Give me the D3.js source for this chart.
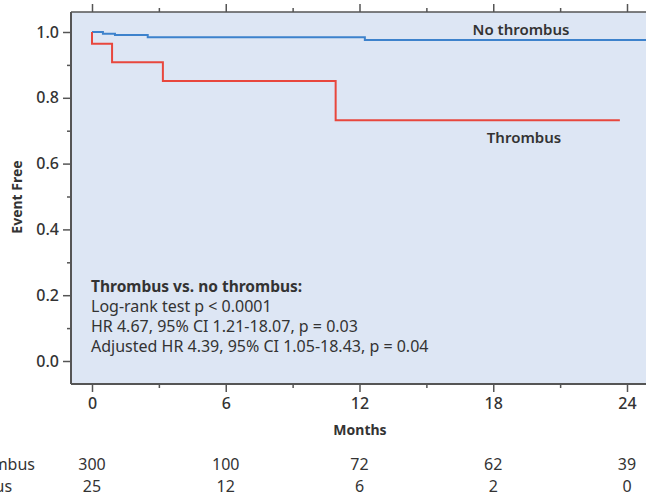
<!DOCTYPE html>
<html>
<head>
<meta charset="utf-8">
<script src="https://cdn.jsdelivr.net/npm/d3@7"></script>
<style>
  body { margin: 0; background: #fff; }
  svg text { font-family: "Noto Sans", "Open Sans", sans-serif; fill: #333; }
</style>
</head>
<body>
<div id="chart"></div>
<script>
// survival curves (months, event-free proportion)
const noThrombusTimes = [0, 0.49, 1.03, 2.5, 12.24, 25];
const noThrombusSurv = [1.0, 0.995, 0.991, 0.984, 0.976, 0.976];
const thrombusTimes = [0, 0, 0.9, 3.18, 10.93, 23.68];
const thrombusSurv = [1.0, 0.964, 0.908, 0.851, 0.732, 0.732];

const monthTicks = [0, 6, 12, 18, 24];
const monthMinor = [3, 9, 15, 21];
const yTicks = [0, 0.2, 0.4, 0.6, 0.8, 1.0];
const yMinor = [0.1, 0.3, 0.5, 0.7, 0.9];

const riskLabels = ['No thrombus', 'Thrombus'];
const riskNoThrombus = [300, 100, 72, 62, 39];
const riskThrombus = [25, 12, 6, 2, 0];

const statsLines = [
  'Thrombus vs. no thrombus:',
  'Log-rank test p < 0.0001',
  'HR 4.67, 95% CI 1.21-18.07, p = 0.03',
  'Adjusted HR 4.39, 95% CI 1.05-18.43, p = 0.04'
];

const width = 646, height = 498;
const plot = { left: 71, right: 660, top: 12, bottom: 384 };

const svg = d3.select('#chart').append('svg')
  .attr('width', width)
  .attr('height', height);

const x = d3.scaleLinear().domain([0, 24]).range([92, 627]);
const y = d3.scaleLinear().domain([0, 1]).range([361, 32]);

// plot background
svg.append('rect')
  .attr('x', plot.left).attr('y', plot.top)
  .attr('width', plot.right - plot.left)
  .attr('height', plot.bottom - plot.top)
  .attr('fill', '#dde6f4');

function styleAxis(g) {
  g.select('.domain').remove();
  g.selectAll('line').attr('stroke', '#555').attr('stroke-width', 1.5);
  g.selectAll('text').attr('fill', '#333');
}

// left axis
svg.append('g')
  .attr('transform', 'translate(' + plot.left + ',0)')
  .call(d3.axisLeft(y).tickValues(yTicks).tickSize(8).tickPadding(4).tickFormat(d3.format('.1f')))
  .call(styleAxis)
  .call(g => g.selectAll('text').style('font-size', '16px').style('font-weight', 500));
svg.append('g')
  .attr('transform', 'translate(' + plot.left + ',0)')
  .call(d3.axisLeft(y).tickValues(yMinor).tickSize(4).tickFormat(''))
  .call(styleAxis);

// bottom axis
svg.append('g')
  .attr('transform', 'translate(0,' + plot.bottom + ')')
  .call(d3.axisBottom(x).tickValues(monthTicks).tickSize(8).tickPadding(6))
  .call(styleAxis)
  .call(g => g.selectAll('text').style('font-size', '16px').style('font-weight', 500));
svg.append('g')
  .attr('transform', 'translate(0,' + plot.bottom + ')')
  .call(d3.axisBottom(x).tickValues(monthMinor).tickSize(4).tickFormat(''))
  .call(styleAxis);

// top axis (mirror, no labels)
svg.append('g')
  .attr('transform', 'translate(0,' + plot.top + ')')
  .call(d3.axisTop(x).tickValues(monthTicks).tickSize(8).tickFormat(''))
  .call(styleAxis);
svg.append('g')
  .attr('transform', 'translate(0,' + plot.top + ')')
  .call(d3.axisTop(x).tickValues(monthMinor).tickSize(4).tickFormat(''))
  .call(styleAxis);

// frame lines
svg.append('line')
  .attr('x1', plot.left).attr('x2', plot.left)
  .attr('y1', plot.top).attr('y2', plot.bottom)
  .attr('stroke', '#555').attr('stroke-width', 2);
svg.append('line')
  .attr('x1', plot.left).attr('x2', plot.right)
  .attr('y1', plot.bottom).attr('y2', plot.bottom)
  .attr('stroke', '#555').attr('stroke-width', 2);
svg.append('line')
  .attr('x1', plot.left).attr('x2', plot.right)
  .attr('y1', plot.top).attr('y2', plot.top)
  .attr('stroke', '#555').attr('stroke-width', 1.5);

// curves
const step = d3.line()
  .x(d => x(d[0]))
  .y(d => y(d[1]))
  .curve(d3.curveStepAfter);

svg.append('path')
  .datum(d3.zip(noThrombusTimes, noThrombusSurv))
  .attr('d', step)
  .attr('fill', 'none')
  .attr('stroke', '#3d82cc')
  .attr('stroke-width', 2);

svg.append('path')
  .datum(d3.zip(thrombusTimes, thrombusSurv))
  .attr('d', step)
  .attr('fill', 'none')
  .attr('stroke', '#e8473d')
  .attr('stroke-width', 2);

// curve labels
svg.append('text')
  .attr('x', 521).attr('y', 35)
  .attr('text-anchor', 'middle')
  .style('font-size', '15px').style('font-weight', 600)
  .text('No thrombus');
svg.append('text')
  .attr('x', 524).attr('y', 143)
  .attr('text-anchor', 'middle')
  .style('font-size', '15px').style('font-weight', 600)
  .text('Thrombus');

// axis titles
svg.append('text')
  .attr('transform', 'translate(22,197) rotate(-90)')
  .attr('text-anchor', 'middle')
  .style('font-size', '14px').style('font-weight', 700)
  .text('Event Free');
svg.append('text')
  .attr('x', 360).attr('y', 435)
  .attr('text-anchor', 'middle')
  .style('font-size', '14px').style('font-weight', 700)
  .text('Months');

// stats annotation
svg.append('g').selectAll('text')
  .data(statsLines)
  .join('text')
  .attr('x', 91)
  .attr('y', (d, i) => 292 + i * 20)
  .style('font-size', (d, i) => i === 0 ? '15.5px' : '16px')
  .style('font-weight', (d, i) => i === 0 ? 700 : 400)
  .text(d => d);

// number at risk table (labels left-aligned, partly off the left edge)
const riskRows = [riskNoThrombus, riskThrombus];
const rowY = [470, 492];
const labelStart = svg.append('text')
  .attr('x', 35).attr('y', rowY[0])
  .attr('text-anchor', 'end')
  .style('font-size', '16px')
  .text(riskLabels[0]);
const startX = 35 - labelStart.node().getComputedTextLength();
svg.append('text')
  .attr('x', startX).attr('y', rowY[1])
  .style('font-size', '16px')
  .text(riskLabels[1]);

riskRows.forEach((row, r) => {
  svg.append('g').selectAll('text')
    .data(row)
    .join('text')
    .attr('x', (d, i) => x(monthTicks[i]))
    .attr('y', rowY[r])
    .attr('text-anchor', 'middle')
    .style('font-size', '16px')
    .text(d => d);
});
</script>
</body>
</html>
